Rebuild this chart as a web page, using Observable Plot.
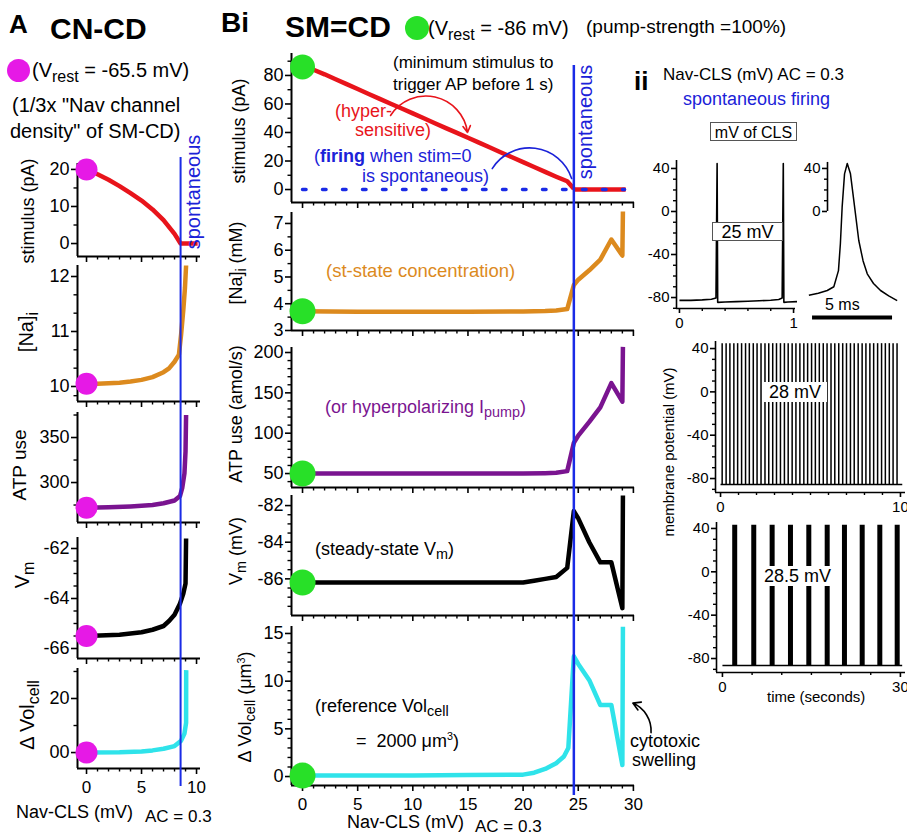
<!DOCTYPE html>
<html><head><meta charset="utf-8">
<script src="https://cdn.jsdelivr.net/npm/d3@7"></script>
<script src="https://cdn.jsdelivr.net/npm/@observablehq/plot@0.6"></script>
<style>
body{margin:0;background:#fff;}
#fig{position:relative;width:907px;height:835px;overflow:hidden;background:#fff;font-family:"Liberation Sans",Arial,Helvetica,sans-serif;color:#000;}
#fig svg{position:absolute;overflow:visible;}
.t{position:absolute;white-space:nowrap;line-height:1;}
.sub{font-size:0.8em;position:relative;top:0.3em;}
.sup{font-size:0.6em;position:relative;top:-0.6em;}
.box{position:absolute;background:#fff;text-align:center;line-height:1;white-space:nowrap;}
</style></head>
<body><div id="fig"></div>
<script>
// ---------------- DATA ----------------
// Column A (CN-CD): Nav-CLS (mV) vs quantity
const aStim = [[0,20],[1,18.7],[2,17.2],[3,15.5],[4,13.6],[5,11.6],[6,9.2],[7,6.3],[8,2.6],[8.55,0],[10.1,0]];
const aNa   = [[0,10.05],[1,10.05],[2,10.06],[3,10.07],[4,10.09],[5,10.12],[6,10.17],[7,10.26],[7.5,10.33],[8,10.45],[8.4,10.58],[8.6,10.95],[8.8,11.4],[8.95,11.8],[9.05,12.2]];
const aAtp  = [[0,272],[2,272.5],[4,273.5],[6,275],[7,277],[8,280],[8.5,285],[8.7,294],[8.9,310],[9.0,335],[9.05,375]];
const aVm   = [[0,-65.5],[3,-65.45],[5,-65.35],[6,-65.25],[7,-65.1],[7.5,-64.9],[8,-64.65],[8.5,-64.2],[8.8,-63.8],[9.0,-63.4],[9.05,-61.6]];
const aVol  = [[0,0],[3,0.1],[5,0.4],[6,0.8],[7,1.4],[8,2.4],[8.6,4.4],[8.9,7],[9.05,11],[9.06,30.5]];
const aSpont = 8.55;

// Column Bi (SM=CD)
const bStim = [[0,86],[1,84],[2,80.8],[3,77.3],[4,73.9],[5,70.5],[6,67],[7,63.6],[8,60.2],[9,56.8],[10,53.4],[11,50],[12,46.5],[13,43.1],[14,39.7],[15,36.3],[16,32.9],[17,29.5],[18,26],[19,22.6],[20,19.2],[21,15.8],[22,12.4],[23,9],[24,5.8],[24.6,0.5]];
const bStimFlat = [[24.6,0],[29.3,0]];
const bStimZero = [[0,0],[29.2,0]];
const bNa   = [[0,3.72],[5,3.7],[10,3.7],[15,3.7],[20,3.71],[22,3.73],[23,3.75],[24,3.8],[24.6,4.7],[25,4.9],[26,5.25],[27,5.65],[28,6.4],[29,5.8],[29.05,7.45]];
const bAtp  = [[0,50],[20,50],[22,50.5],[23,51],[24,53],[24.6,88],[25,97],[26,114],[27,132],[28,162],[29,139],[29.05,207]];
const bVm   = [[0,-86.2],[20,-86.2],[21,-86.1],[22,-86.0],[23,-85.9],[24,-85.4],[24.6,-82.3],[25,-82.7],[26,-84.0],[27,-85.1],[28,-85.1],[29,-87.6],[29.05,-81.45]];
const bVol  = [[0,0.1],[10,0.1],[15,0.15],[20,0.2],[21,0.4],[22,0.8],[23,1.4],[23.7,2.1],[24.1,3],[24.6,12.6],[25,11.8],[26,10.1],[27,7.5],[28,7.5],[29,1.2],[29.05,15.7]];
const bSpont = 24.6;

// Column ii traces
const t1 = [[0,-82.6],[0.1,-82.6],[0.2,-82.2],[0.28,-81.6],[0.32,-80.5],[0.33,44.5],[0.335,-84.5],[0.4,-84.2],[0.5,-83.8],[0.6,-83.4],[0.7,-83],[0.8,-82.5],[0.87,-81.8],[0.9,-80.5],[0.91,44.5],[0.915,-84.5],[0.95,-84.2],[1.03,-83.8]];
const apShape = [[0.21,-78],[0.8,-76],[1.36,-73.5],[1.77,-70],[2.06,-55],[2.18,-30],[2.29,4],[2.44,35],[2.61,44.6],[2.81,35],[3.02,10],[3.33,-27],[3.6,-46],[3.86,-58],[4.25,-67],[4.69,-73.5],[5.2,-78.5],[5.73,-83]];
const t2Spikes = [0.09,0.31,0.52,0.74,0.95,1.17,1.39,1.60,1.82,2.03,2.25,2.47,2.68,2.90,3.11,3.33,3.55,3.76,3.98,4.19,4.41,4.63,4.84,5.06,5.27,5.49,5.71,5.92,6.14,6.35,6.57,6.79,7.00,7.22,7.43,7.65,7.87,8.08,8.30,8.51,8.73,8.95,9.16,9.38,9.59,9.81];
const t2Base = [[0,-85.5],[10.1,-85.5]];
const t3Bursts = [2.07,5.28,8.38,11.47,14.56,17.66,20.57,23.56,26.53,29.46];
const t3Base = [[0,-86.5],[30.3,-86.5]];
const scaleBar = {start:0.44, end:5.44, y:-98.6};

// tick values / labels
const aXMajor=[0,5,10], aXMinor=[1,2,3,4,6,7,8,9];
const bXMajor=[0,5,10,15,20,25,30], bXMinor=[1,2,3,4,6,7,8,9,11,12,13,14,16,17,18,19,21,22,23,24,26,27,28,29];
const aVolTicks=[0,20], aVolLabels=["00","20"];
const iiY=[-80,-40,0,40], iiYm=[-90,-70,-60,-50,-30,-20,-10,10,20,30];

// colours
const RED="#e8141b", ORANGE="#dc8a1e", PURPLE="#7a1490", CYAN="#2fe3ea", MAGENTA="#e619e6", GREEN="#28e028", BLUE="#1a2be6", TBLUE="#1b22d8";
const FONT='"Liberation Sans", Arial, Helvetica, sans-serif';
const fig=document.getElementById("fig");
const X=d=>d[0], Y=d=>d[1];

function panel(o){
  const mL=o.mL??70, mR=o.mR??12, mT=o.mT??12, mB=o.mB??45;
  const W=o.right-o.left, H=o.bottom-o.top;
  const aw=o.axisW??2, fs=o.fs??18, fx=o.fx??17;
  const marks=[];
  if(!o.noFrame) marks.push(
    Plot.ruleY([o.yDomain[0]],{stroke:"black",strokeWidth:aw}),
    Plot.ruleX([o.xDomain[0]],{stroke:"black",strokeWidth:aw}));
  if(o.yMajor) marks.push(Plot.axisY(o.yMajor,{tickSize:o.tick??6,tickPadding:o.yPad??2,strokeWidth:1.6,fontSize:fs,label:null,tickFormat:o.yFormat??(d=>String(d))}));
  if(o.yMinor) marks.push(Plot.axisY(o.yMinor,{tickSize:o.mtick??3.5,strokeWidth:1.4,label:null,tickFormat:()=>""}));
  if(o.xMajor) marks.push(Plot.axisX(o.xMajor,{tickSize:o.tick??6,tickPadding:o.xPad??6,strokeWidth:1.6,fontSize:fx,label:null,tickFormat:o.xLabels?(d=>(o.xShow?(o.xShow.includes(d)?String(d):""):String(d))):()=>""}));
  if(o.xMinor) marks.push(Plot.axisX(o.xMinor,{tickSize:o.mtick??3.5,strokeWidth:1.4,label:null,tickFormat:()=>""}));
  marks.push(...o.marks);
  const svg=Plot.plot({width:W+mL+mR,height:H+mT+mB,marginLeft:mL,marginRight:mR,marginTop:mT,marginBottom:mB,
    x:{domain:o.xDomain,axis:o.xMajor?undefined:null},y:{domain:o.yDomain,axis:(o.yMajor||o.noFrame)?undefined:null},
    style:{background:"transparent",fontFamily:FONT,fontSize:fs+"px",overflow:"visible",color:"black"},marks});
  svg.style.left=(o.left-mL)+"px"; svg.style.top=(o.top-mT)+"px";
  fig.appendChild(svg);
}
function overlay(o){
  const svg=Plot.plot({width:o.right-o.left,height:o.bottom-o.top,margin:0,
    x:{domain:o.xDomain,axis:null},y:{domain:[0,1],axis:null},
    style:{background:"transparent",overflow:"visible"},
    marks:[Plot.ruleX([o.at],{stroke:BLUE,strokeWidth:o.sw??2})]});
  svg.style.left=o.left+"px"; svg.style.top=o.top+"px";
  fig.appendChild(svg);
}
const line=(d,c,w=4.5)=>Plot.line(d,{x:X,y:Y,stroke:c,strokeWidth:w,strokeLinejoin:"round",strokeLinecap:"butt"});
const dot=(d,c,r)=>Plot.dot([d[0]],{x:X,y:Y,r,fill:c,stroke:"none"});

// ---------------- Column A ----------------
const aX={left:77,right:200,xDomain:[-0.82,10.36]};
panel({...aX,top:163,bottom:256,yDomain:[-3.5,21.6],yMajor:[0,10,20],yMinor:[5,15],xMajor:aXMajor,xMinor:aXMinor,
  marks:[line(aStim,RED),dot(aStim,MAGENTA,11)]});
panel({...aX,top:265,bottom:401,yDomain:[9.727,12.2],yMajor:[10,11,12],yMinor:[9.833,10.333,10.667,11.333,11.667],xMajor:aXMajor,xMinor:aXMinor,
  marks:[line(aNa,ORANGE),dot(aNa,MAGENTA,11)]});
panel({...aX,top:412,bottom:522,yDomain:[255.6,377.8],yMajor:[300,350],yMinor:[275,325,375],xMajor:aXMajor,xMinor:aXMinor,
  marks:[line(aAtp,PURPLE),dot(aAtp,MAGENTA,11)]});
panel({...aX,top:537,bottom:658,yDomain:[-66.4,-61.56],yMajor:[-66,-64,-62],yMinor:[-65.5,-65,-64.5,-63.5,-63,-62.5],xMajor:aXMajor,xMinor:aXMinor,
  marks:[line(aVm,"black"),dot(aVm,MAGENTA,11)]});
panel({...aX,top:668,bottom:768,yDomain:[-5.9,31.1],yMajor:aVolTicks,yFormat:d=>aVolLabels[aVolTicks.indexOf(d)],yMinor:[10,30],xMajor:aXMajor,xMinor:aXMinor,xLabels:true,
  marks:[line(aVol,CYAN),dot(aVol,MAGENTA,11)]});
overlay({...aX,top:157,bottom:786,at:aSpont});

// ---------------- Column Bi ----------------
const bX={left:291,right:634,xDomain:[-1,30.1]};
const hyperArrow=[{x1:7.98,y1:51.9,x2:14.96,y2:40}];
const spontArc=[{x1:17.2,y1:14.7,x2:24.4,y2:7.7}];
const cytoArrow=[{x1:31.6,y1:4.6,x2:29.95,y2:7.7}];
panel({...bX,top:53,bottom:202,yDomain:[-9.1,95.4],yMajor:[0,20,40,60,80],yMinor:[10,30,50,70,90],xMajor:bXMajor,xMinor:bXMinor,mR:90,
  marks:[line(bStim,RED),line(bStimFlat,RED),
    Plot.line(bStimZero,{x:X,y:Y,stroke:BLUE,strokeWidth:3.5,strokeDasharray:"3.5 16.5"}),
    Plot.arrow(hyperArrow,{x1:"x1",y1:"y1",x2:"x2",y2:"y2",bend:70,stroke:RED,strokeWidth:1.6,headLength:7}),
    Plot.arrow(spontArc,{x1:"x1",y1:"y1",x2:"x2",y2:"y2",bend:65,stroke:TBLUE,strokeWidth:1.6,headLength:0}),
    dot(bStim,GREEN,12.5)]});
panel({...bX,top:212,bottom:330,yDomain:[3,7.41],yMajor:[3,4,5,6,7],yMinor:[3.5,4.5,5.5,6.5],xMajor:bXMajor,xMinor:bXMinor,
  marks:[line(bNa,ORANGE),dot(bNa,GREEN,13)]});
panel({...bX,top:347,bottom:487,yDomain:[32.7,206.2],yMajor:[50,100,150,200],yMinor:[40,60,70,80,90,110,120,130,140,160,170,180,190],xMajor:bXMajor,xMinor:bXMinor,
  marks:[line(bAtp,PURPLE),dot(bAtp,GREEN,13)]});
panel({...bX,top:495,bottom:615,yDomain:[-88,-81.45],yMajor:[-86,-84,-82],yMinor:[-87.5,-87,-86.5,-85.5,-85,-84.5,-83.5,-83,-82.5],xMajor:bXMajor,xMinor:bXMinor,
  marks:[line(bVm,"black"),dot(bVm,GREEN,13)]});
panel({...bX,top:626,bottom:785,yDomain:[-0.94,15.73],yMajor:[0,5,10,15],yMinor:[1,2,3,4,6,7,8,9,11,12,13,14],xMajor:bXMajor,xMinor:bXMinor,xLabels:true,mR:90,
  marks:[line(bVol,CYAN),dot(bVol,GREEN,13),
    Plot.arrow(cytoArrow,{x1:"x1",y1:"y1",x2:"x2",y2:"y2",bend:-35,stroke:"black",strokeWidth:1.6,headLength:8})]});
overlay({...bX,top:65,bottom:795,at:bSpont,sw:2.5});

// ---------------- Column ii ----------------
panel({left:676,right:795,top:160,bottom:308,xDomain:[-0.026,1.017],yDomain:[-90.2,47.4],axisW:1.6,fs:15,fx:15,tick:5,mtick:3,xPad:4,
  yMajor:iiY,yMinor:iiYm,xMajor:[0,1],xMinor:[0.2,0.4,0.6,0.8],xLabels:true,
  marks:[line(t1,"black",1.6)]});
panel({left:827,right:901,top:160,bottom:320,xDomain:[1.375,6],yDomain:[-101.4,47.4],fs:15,noFrame:true,
  marks:[Plot.ruleX([1.375],{y1:0,y2:45.6,stroke:"black",strokeWidth:1.6}),
    Plot.axisY([0,40],{tickSize:5,tickPadding:2,strokeWidth:1.6,fontSize:15,label:null}),
    Plot.axisY([10,20,30],{tickSize:3,strokeWidth:1.4,label:null,tickFormat:()=>""}),
    line(apShape,"black",1.5),
    Plot.ruleY([scaleBar.y],{x1:scaleBar.start,x2:scaleBar.end,stroke:"black",strokeWidth:4})]});
panel({left:715,right:905,top:341,bottom:492,xDomain:[-0.28,10.28],yDomain:[-92.9,46.5],axisW:1.6,fs:15,fx:15,tick:5,mtick:3,xPad:4,
  yMajor:iiY,yMinor:iiYm,xMajor:[0,10],xMinor:[1,2,3,4,5,6,7,8,9],xLabels:true,
  marks:[line(t2Base,"black",1.5),Plot.ruleX(t2Spikes,{y1:-85.5,y2:44.5,stroke:"black",strokeWidth:1.5})]});
panel({left:716,right:905,top:522,bottom:672,xDomain:[-1,30.86],yDomain:[-92.9,45.5],axisW:1.6,fs:15,fx:15,tick:5,mtick:3,xPad:4,
  yMajor:iiY,yMinor:iiYm,xMajor:[0,30],xMinor:[5,10,15,20,25],xLabels:true,
  marks:[line(t3Base,"black",1.5),Plot.ruleX(t3Bursts,{y1:-86.5,y2:43,stroke:"black",strokeWidth:5})]});

// ---------------- TEXT ----------------
function txt(html,x,base,size,opt={}){
  const d=document.createElement("div"); d.className="t"; d.innerHTML=html;
  d.style.left=x+"px"; d.style.top=(base-0.846*size)+"px"; d.style.fontSize=size+"px";
  if(opt.color) d.style.color=opt.color;
  if(opt.bold) d.style.fontWeight="bold";
  fig.appendChild(d); return d;
}
function vtxt(html,cx,cy,size,opt={}){
  const d=document.createElement("div"); d.className="t"; d.innerHTML=html;
  d.style.left=cx+"px"; d.style.top=cy+"px"; d.style.fontSize=size+"px";
  d.style.transform="translate(-50%,-50%) rotate(-90deg)";
  if(opt.color) d.style.color=opt.color;
  fig.appendChild(d); return d;
}
function box(html,x,y,w,h,size,border){
  const d=document.createElement("div"); d.className="box"; d.innerHTML=html;
  Object.assign(d.style,{left:x+"px",top:y+"px",width:w+"px",height:h+"px",fontSize:size+"px",lineHeight:h+"px",border:border?"1px solid #555":"none",boxSizing:"border-box"});
  fig.appendChild(d); return d;
}
function circ(cx,cy,r,c){
  const d=document.createElement("div");
  Object.assign(d.style,{position:"absolute",left:(cx-r)+"px",top:(cy-r)+"px",width:2*r+"px",height:2*r+"px",borderRadius:"50%",background:c});
  fig.appendChild(d);
}
// headers
txt("A",9,33,26,{bold:true});
txt("CN-CD",50,39,30,{bold:true});
circ(18.5,70,11.5,MAGENTA);
txt('(V<span class="sub">rest</span> = -65.5 mV)',32,77,20);
txt('(1/3x "Nav channel',12,112,20);
txt('density" of SM-CD)',10,138,20);
txt("Bi",221,33,28,{bold:true});
txt("SM=CD",285,37,30,{bold:true});
circ(417,28,12,GREEN);
txt('(V<span class="sub">rest</span> = -86 mV)',428,35,20);
txt("(pump-strength =100%)",586,33,19);
// column A labels
vtxt("spontaneous",193,192,20,{color:TBLUE});
vtxt("stimulus (pA)",28,211,18);
vtxt('[Na]<span class="sub">i</span>',26,332,20);
vtxt("ATP use",19,465,19);
vtxt('V<span class="sub">m</span>',22,575,20);
vtxt('Δ Vol<span class="sub">cell</span>',27,715,20);
txt("Nav-CLS (mV)",16,818,18);
txt("AC = 0.3",145,822,17);
// column Bi labels
vtxt("spontaneous",585,122,20,{color:TBLUE});
vtxt("stimulus (pA)",239,131,18);
vtxt('[Na]<span class="sub">i</span> (mM)',236,263,18);
vtxt("ATP use (amol/s)",236,414,18);
vtxt('V<span class="sub">m</span> (mV)',236,551,18);
vtxt('Δ Vol<span class="sub">cell</span> (μm<span class="sup">3</span>)',245,707,18);
txt("(minimum stimulus to",393,68,17);
txt("trigger AP before 1 s)",393,90,17);
txt("(hyper-",335,117,18,{color:RED});
txt("sensitive)",355,136,18,{color:RED});
txt('(<b>firing</b> when stim=0',314,162,18,{color:TBLUE});
txt("is spontaneous)",362,182,18,{color:TBLUE});
txt("(st-state concentration)",326,278,18.5,{color:ORANGE});
txt('(or hyperpolarizing I<span class="sub">pump</span>)',325,413,18,{color:PURPLE});
txt('(steady-state V<span class="sub">m</span>)',315,555,18);
txt('(reference Vol<span class="sub">cell</span>',315,712,18);
txt('= &nbsp;2000 μm<span class="sup">3</span>)',356,747,18);
txt("Nav-CLS (mV)",347,828,18);
txt("AC = 0.3",475,832,17);
txt("cytotoxic",630,747,18);
txt("swelling",632,766,18);
// column ii labels
txt("ii",634,90,26,{bold:true});
txt("Nav-CLS (mV) AC = 0.3",663,80,17);
txt("spontaneous firing",683,105,18,{color:TBLUE});
box("mV of CLS",710,122,87,19,16,true);
box("25 mV",712,222,71,19,18,true);
box("28 mV",763,382,64,20,18,false);
box("28.5 mV",762,566,71,20,18,false);
vtxt("membrane potential (mV)",668,452,15);
txt("time (seconds)",767,702,15);
txt("5 ms",825,311,16);
</script></body></html>
